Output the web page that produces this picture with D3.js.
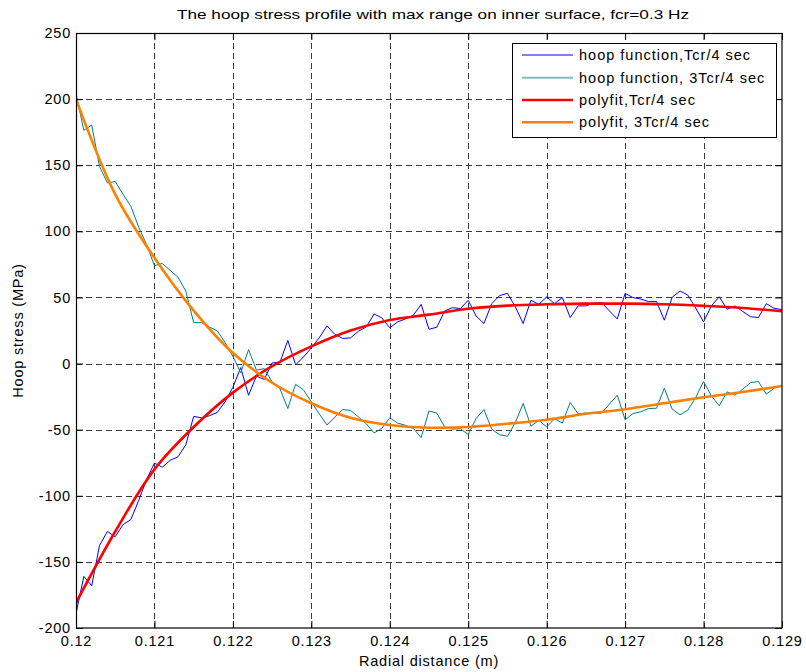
<!DOCTYPE html>
<html>
<head>
<meta charset="utf-8">
<script src="https://cdn.jsdelivr.net/npm/d3@7"></script>
<style>
  html, body { margin: 0; padding: 0; background: #fff; }
  svg { display: block; }
  text { font-family: "Liberation Sans", Arial, Helvetica, sans-serif; fill: #000; }
</style>
</head>
<body>
<svg id="chart" width="806" height="672"></svg>
<script>
// Radial sample positions (m)
const radialDistance = [
  0.1200, 0.1201, 0.1202, 0.1203, 0.1204, 0.1205, 0.1206, 0.1207, 0.1208, 0.1209,
  0.1210, 0.1211, 0.1212, 0.1213, 0.1214, 0.1215, 0.1216, 0.1217, 0.1218, 0.1219,
  0.1220, 0.1221, 0.1222, 0.1223, 0.1224, 0.1225, 0.1226, 0.1227, 0.1228, 0.1229,
  0.1230, 0.1231, 0.1232, 0.1233, 0.1234, 0.1235, 0.1236, 0.1237, 0.1238, 0.1239,
  0.1240, 0.1241, 0.1242, 0.1243, 0.1244, 0.1245, 0.1246, 0.1247, 0.1248, 0.1249,
  0.1250, 0.1251, 0.1252, 0.1253, 0.1254, 0.1255, 0.1256, 0.1257, 0.1258, 0.1259,
  0.1260, 0.1261, 0.1262, 0.1263, 0.1264, 0.1265, 0.1266, 0.1267, 0.1268, 0.1269,
  0.1270, 0.1271, 0.1272, 0.1273, 0.1274, 0.1275, 0.1276, 0.1277, 0.1278, 0.1279,
  0.1280, 0.1281, 0.1282, 0.1283, 0.1284, 0.1285, 0.1286, 0.1287, 0.1288, 0.1289,
  0.1290
];

// Hoop stress (MPa) at Tcr/4
const hoopTcr4 = [
  -189, -161, -168, -137.6, -127, -131, -121.8, -117.9, -103.4, -87.6,
  -75.3, -78.4, -73.2, -70.5, -61.5, -40, -41, -39.5, -37, -29,
  -18, -3, -24, -9.5, -12, 0.5, 1, 17.5, -1, 5,
  11.8, 19.4, 28.5, 22, 19, 19.4, 24.4, 27.7, 37.5, 34.5,
  27, 31.5, 33.8, 36.5, 44.8, 25.9, 27.5, 39.8, 42.3, 41.6,
  47.8, 36, 30.3, 45.3, 51.4, 53.1, 43, 30.3, 47.9, 44.8,
  50.4, 45.3, 49.9, 34.8, 43.6, 43.6, 45.7, 46.1, 39.8, 33.7,
  53.1, 49.9, 48.8, 46.8, 46.9, 32.8, 50.2, 54.9, 51.7, 42,
  31.5, 43.6, 50.5, 41.1, 43.6, 39.4, 35.4, 34.8, 45.3, 41.8,
  40.8
];

// Hoop stress (MPa) at 3Tcr/4
const hoop3Tcr4 = [
  204, 176.4, 180.4, 149, 136.6, 137.7, 128, 118.8, 103, 90,
  74, 75.7, 70.5, 65.3, 54.8, 31, 31, 27.6, 24.8, 16,
  5.5, -7, 10.5, -5, -3.8, -14, -19, -34, -15.7, -20,
  -29, -38, -46.5, -40.4, -34.8, -35.4, -40.4, -45.5, -52.5, -49,
  -41, -45, -46.7, -49, -56, -35.8, -37.5, -48, -49.6, -49.3,
  -53.6, -41.5, -34.8, -49.6, -53.9, -55, -44.6, -30.2, -47.3, -43,
  -47.9, -41.8, -45, -29.5, -37.9, -37.5, -37.5, -37.5, -30.7, -23.9,
  -42.6, -37.8, -36.5, -34, -33.8, -18.6, -34.5, -38.8, -35.3, -25.7,
  -13.6, -24.4, -32, -21.4, -23.9, -19.4, -14.4, -13.6, -23.2, -18.6,
  -16.9
];

// Polynomial fits, sampled every 0.0005 m
const fitDistance = [
  0.1200, 0.1205, 0.1210, 0.1215, 0.1220, 0.1225, 0.1230, 0.1235, 0.1240, 0.1245,
  0.1250, 0.1255, 0.1260, 0.1265, 0.1270, 0.1275, 0.1280, 0.1285, 0.1290
];
const fitTcr4 = [
  -181, -127, -80, -48, -22, -2, 13, 25, 33, 37,
  41.5, 43.8, 44.8, 45.3, 45.3, 44.8, 43.6, 42, 39.5
];
const fit3Tcr4 = [
  200, 128, 80, 40, 8, -14.5, -30, -41, -46.5, -48.5,
  -48, -45.5, -42.5, -38, -34.5, -30, -25.5, -21.5, -17
];

// Axis ticks
const xTicks = [0.12, 0.121, 0.122, 0.123, 0.124, 0.125, 0.126, 0.127, 0.128, 0.129];
const xTickLabels = ["0.12", "0.121", "0.122", "0.123", "0.124", "0.125", "0.126", "0.127", "0.128", "0.129"];
const yTicks = [-200, -150, -100, -50, 0, 50, 100, 150, 200, 250];
const yTickLabels = ["-200", "-150", "-100", "-50", "0", "50", "100", "150", "200", "250"];

// Series styling and legend labels
const seriesNames = [
  "hoop function,Tcr/4 sec",
  "hoop function, 3Tcr/4 sec",
  "polyfit,Tcr/4 sec",
  "polyfit, 3Tcr/4 sec"
];
const seriesColors = ["#0000ff", "#008080", "#ff0000", "#ff8000"];

const W = 806, H = 672;
const margin = { left: 76, top: 33, right: 24, bottom: 44 };
const pw = W - margin.left - margin.right;
const ph = H - margin.top - margin.bottom;

const svg = d3.select("#chart");
const g = svg.append("g").attr("transform", `translate(${margin.left},${margin.top})`);

const x = d3.scaleLinear().domain([0.12, 0.129]).range([0, pw]);
const y = d3.scaleLinear().domain([-200, 250]).range([ph, 0]);

const snap = v => Math.round(v) + 0.5;

// Dashed grid
const grid = g.append("g").attr("class", "grid")
  .attr("stroke", "#3c3c3c").attr("stroke-width", 1).attr("stroke-dasharray", "6,4");
grid.selectAll("line.gx").data(xTicks.slice(1, -1)).join("line")
  .attr("x1", d => snap(x(d))).attr("x2", d => snap(x(d)))
  .attr("y1", 0).attr("y2", ph);
grid.selectAll("line.gy").data(yTicks.slice(1, -1)).join("line")
  .attr("x1", 0).attr("x2", pw)
  .attr("y1", d => snap(y(d))).attr("y2", d => snap(y(d)));

// Data lines
g.append("clipPath").attr("id", "plotClip")
  .append("rect").attr("x", 0).attr("y", 0).attr("width", pw).attr("height", ph);
const plot = g.append("g").attr("clip-path", "url(#plotClip)");

const rawLine = d3.line().x(d => x(d[0])).y(d => y(d[1]));
const fitLine = d3.line().x(d => x(d[0])).y(d => y(d[1])).curve(d3.curveCatmullRom.alpha(0.5));

plot.append("path")
  .datum(radialDistance.map((r, i) => [r, hoopTcr4[i]]))
  .attr("d", rawLine).attr("fill", "none")
  .attr("stroke", seriesColors[0]).attr("stroke-width", 1);
plot.append("path")
  .datum(radialDistance.map((r, i) => [r, hoop3Tcr4[i]]))
  .attr("d", rawLine).attr("fill", "none")
  .attr("stroke", seriesColors[1]).attr("stroke-width", 1);
plot.append("path")
  .datum(fitDistance.map((r, i) => [r, fitTcr4[i]]))
  .attr("d", fitLine).attr("fill", "none")
  .attr("stroke", seriesColors[2]).attr("stroke-width", 2.6)
  .attr("stroke-linejoin", "round");
plot.append("path")
  .datum(fitDistance.map((r, i) => [r, fit3Tcr4[i]]))
  .attr("d", fitLine).attr("fill", "none")
  .attr("stroke", seriesColors[3]).attr("stroke-width", 2.6)
  .attr("stroke-linejoin", "round");

// Axes with inward ticks on all four sides
const tickLen = 7;
const fontSize = "14.5px";
const spacing = "0.8px";

const xAxis = d3.axisBottom(x).tickValues(xTicks)
  .tickFormat((d, i) => xTickLabels[i]).tickSizeInner(-tickLen).tickSizeOuter(0).tickPadding(8);
const yAxis = d3.axisLeft(y).tickValues(yTicks)
  .tickFormat((d, i) => yTickLabels[i]).tickSizeInner(-tickLen).tickSizeOuter(0).tickPadding(5);

function styleAxis(sel) {
  sel.select(".domain").remove();
  sel.selectAll(".tick line").attr("stroke", "#000").attr("stroke-width", 1);
  sel.selectAll(".tick text")
    .style("font-family", '"Liberation Sans", Arial, sans-serif')
    .style("font-size", fontSize).style("letter-spacing", spacing).attr("fill", "#000");
}

g.append("g").attr("transform", `translate(0,${ph})`).call(xAxis).call(styleAxis);
g.append("g").call(yAxis).call(styleAxis);
g.append("g").call(d3.axisTop(x).tickValues(xTicks).tickFormat("")
  .tickSizeInner(-tickLen).tickSizeOuter(0)).call(styleAxis);
g.append("g").attr("transform", `translate(${pw},0)`).call(d3.axisRight(y).tickValues(yTicks).tickFormat("")
  .tickSizeInner(-tickLen).tickSizeOuter(0)).call(styleAxis);

// Plot frame
g.append("rect").attr("x", 0.5).attr("y", 0.5).attr("width", pw - 0.5).attr("height", ph - 0.5)
  .attr("fill", "none").attr("stroke", "#000").attr("stroke-width", 1.2);

// Title and axis labels
svg.append("text").attr("x", 433).attr("y", 19).attr("text-anchor", "middle")
  .style("font-size", "13.5px").attr("textLength", 512).attr("lengthAdjust", "spacingAndGlyphs")
  .text("The hoop stress profile with max range on inner surface, fcr=0.3 Hz");

svg.append("text").attr("x", margin.left + pw / 2).attr("y", 666).attr("text-anchor", "middle")
  .style("font-size", fontSize).style("letter-spacing", spacing)
  .text("Radial distance (m)");

svg.append("text").attr("transform", `translate(23,${margin.top + ph / 2}) rotate(-90)`)
  .attr("text-anchor", "middle")
  .style("font-size", fontSize).style("letter-spacing", spacing)
  .text("Hoop stress (MPa)");

// Legend
const legend = svg.append("g").attr("transform", "translate(512,43)");
legend.append("rect").attr("x", 0.5).attr("y", 0.5).attr("width", 264).attr("height", 94)
  .attr("fill", "#fff").attr("stroke", "#000").attr("stroke-width", 1);
const rowY = [12, 34.7, 57, 79.3];
const legendWidths = [1, 2, 2.6, 2.6];
const legendStroke = ["#0000ff", "#7fbfbf", "#ff0000", "#ff8000"];
seriesNames.forEach((name, i) => {
  legend.append("line").attr("x1", 10).attr("x2", 61)
    .attr("y1", rowY[i]).attr("y2", rowY[i])
    .attr("stroke", legendStroke[i]).attr("stroke-width", legendWidths[i]);
  legend.append("text").attr("x", 67).attr("y", rowY[i] + 5)
    .style("font-size", fontSize).style("letter-spacing", "1px")
    .text(name);
});
</script>
</body>
</html>
